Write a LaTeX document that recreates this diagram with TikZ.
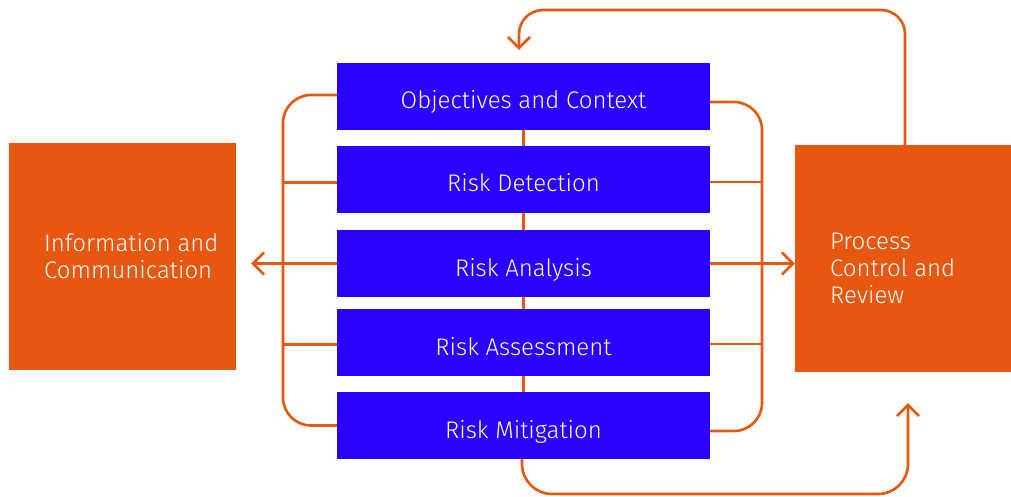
\documentclass[tikz,border=0pt]{standalone}
\usepackage{fontspec}
\setmainfont{Fira Sans}[UprightFont={* Light}]
\usetikzlibrary{arrows.meta,calc}
\definecolor{myblue}{HTML}{2A00FF}
\definecolor{myorange}{HTML}{E8570F}
\begin{document}
\begin{tikzpicture}[x=1pt,y=-1pt,
  txt/.style={text=white, font=\fontsize{24}{27}\selectfont},
  bluebox/.style={txt, fill=myblue, minimum width=373pt, minimum height=67pt, inner sep=0pt, text height=26pt, text depth=1pt},
  orangebox/.style={fill=myorange, minimum width=227pt, minimum height=227pt, inner sep=0pt},
  conn/.style={draw=myorange, line width=2.6pt},
  arr/.style={-{Straight Barb[length=11pt,width=22pt,line width=2.6pt]}}]
\useasboundingbox (0,0) rectangle (1011,497);
% boxes
\node[bluebox] (b1) at (523.5,96.5) {Objectives and Context};
\node[bluebox] (b2) at (523.5,179.5) {Risk Detection};
\node[bluebox] (b3) at (523.5,263.5) {Risk Analysis};
\node[bluebox] (b4) at (523.5,342.5) {Risk Assessment};
\node[bluebox] (b5) at (523.5,425.5) {Risk Mitigation};
\node[orangebox] (info) at (122.5,256.5) {};
\node[orangebox, minimum width=216pt] (proc) at (903,258.5) {};
\node[txt, anchor=west, align=left, inner sep=0pt] (infoT) at (44,256) {Information and\\Communication};
\node[txt, anchor=west, align=left, inner sep=0pt] (procT) at (830,268) {Process\\Control and\\Review};
% coordinates
\coordinate (L) at (283,0);
\coordinate (R) at (762,0);
\coordinate (tl) at (519,10);
\coordinate (br) at (908,494);
% middle spine
\draw[conn] (b1) -- (b2);
\draw[conn] (b2) -- (b3);
\draw[conn] (b3) -- (b4);
\draw[conn] (b4) -- (b5);
% left bracket
\draw[conn, rounded corners=28pt] ($(b1.west)+(0,-1.5)$) -| (L |- b5.west) -- (b5.west);
\draw[conn] ($(b2.west)+(0,3)$) -- ($(b2.west -| L)+(0,3)$);
\draw[conn] ($(b4.west)+(0,2)$) -- ($(b4.west -| L)+(0,2)$);
\draw[conn, arr, shorten >=15pt] (b3.west) -- (info.east |- b3.west);
% right bracket
\draw[conn, rounded corners=28pt] ($(b1.east)+(0,5.5)$) -| ($(R |- b5.east)+(0,5.5)$) -- ($(b5.east)+(0,5.5)$);
\draw[conn] ($(b2.east)+(0,2.5)$) -- ($(b2.east -| R)+(0,2.5)$);
\draw[conn] ($(b4.east)+(0,1.5)$) -- ($(b4.east -| R)+(0,1.5)$);
\draw[conn, arr] (b3.east) -- (proc.west |- b3.east);
% top feedback loop
\draw[conn, arr, rounded corners=24pt, shorten >=13pt] (proc.north -| 905,0) |- (tl) -- (tl |- b1.north);
% bottom loop
\draw[conn, arr, rounded corners=30pt, shorten >=31pt] ($(b5.south)+(-1.5,0)$) |- (br) -- (br |- proc.south);
\end{tikzpicture}
\end{document}
